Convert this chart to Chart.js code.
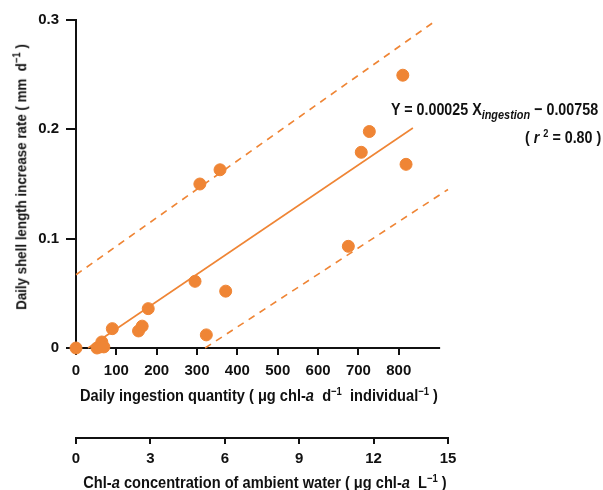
<!DOCTYPE html>
<html>
<head>
<meta charset="utf-8">
<script src="https://cdn.jsdelivr.net/npm/chart.js@4"></script>
<style>
  body { margin: 0; background: #fff; }
  #wrap { position: relative; width: 603px; height: 490px; }
  .lbl { position: absolute; font-family: 'Liberation Sans', Arial, sans-serif;
         font-weight: bold; font-size: 17px; color: #111; white-space: nowrap; line-height: 1; }
  .lbl sup { font-size: 11px; vertical-align: 6px; }
  .lbl sub { font-size: 13px; font-style: italic; vertical-align: -4px; }
</style>
</head>
<body>
<div id="wrap">
  <canvas id="growthChart" width="603" height="490"></canvas>
  <div class="lbl" id="yTitle" style="left:20px; top:177px; font-size:15.5px; transform: translate(-50%,-50%) rotate(-90deg) scaleX(0.86);">Daily shell length increase rate ( mm&nbsp; d<sup>−1</sup> )</div>
  <div class="lbl" id="xTitle" style="left:259px; top:395px; transform: translate(-50%,-50%) scaleX(0.86);">Daily ingestion quantity ( μg chl-<i>a</i>&nbsp; d<sup>−1</sup>&nbsp; individual<sup>−1</sup> )</div>
  <div class="lbl" id="x2Title" style="left:265px; top:482px; transform: translate(-50%,-50%) scaleX(0.86);">Chl-<i>a</i> concentration of ambient water ( μg chl-<i>a</i>&nbsp; L<sup>−1</sup> )</div>
  <div class="lbl" id="eq1" style="left:391px; top:101px; transform-origin: 0 0; transform: scaleX(0.84);">Y = 0.00025 X<sub>ingestion</sub> − 0.00758</div>
  <div class="lbl" id="eq2" style="left:525px; top:128px; transform-origin: 0 0; transform: scaleX(0.84);">( <i>r</i> <sup>2</sup> = 0.80 )</div>
</div>
<script>
// Shell growth vs. daily ingestion, with regression and prediction bands.

const ingestion = [0, 52, 60, 64, 69, 90, 155, 164, 179, 295, 307, 323, 357, 371, 675, 707, 727, 810, 818];
const growthRate = [0, 0, 0.001, 0.0055, 0.001, 0.0177, 0.0156, 0.020, 0.036, 0.061, 0.150, 0.012, 0.163, 0.052, 0.093, 0.179, 0.198, 0.2495, 0.168];

// regression line and dashed band end points
const fitX = [30, 835];
const fitY = [0, 0.2012];
const upperX = [0, 894];
const upperY = [0.067, 0.300];
const lowerX = [320, 922];
const lowerY = [0, 0.145];

const yTicks = [0, 0.1, 0.2, 0.3];
const xTickMax = 900;
const xMax = 922;
const chlTicks = [0, 3, 6, 9, 12, 15];

const orange = '#EF8535';
const tickFont = { family: "'Liberation Sans', Arial, sans-serif", size: 15, weight: 'bold' };

function toPoints(xs, ys) {
  return xs.map((x, i) => ({ x: x, y: ys[i] }));
}

// axis line of the ingestion scale only runs from 0 to 900
const ingestionAxisLine = {
  id: 'ingestionAxisLine',
  beforeDatasetsDraw(chart) {
    const x = chart.scales.x;
    const ctx = chart.ctx;
    const y = chart.chartArea.bottom;
    ctx.save();
    ctx.strokeStyle = '#111';
    ctx.lineWidth = 2;
    ctx.beginPath();
    ctx.moveTo(x.getPixelForValue(0) - 1, y);
    ctx.lineTo(x.getPixelForValue(xTickMax) + 1, y);
    ctx.stroke();
    ctx.restore();
  }
};

new Chart(document.getElementById('growthChart'), {
  type: 'scatter',
  data: {
    datasets: [
      {
        type: 'line',
        data: toPoints(upperX, upperY),
        borderColor: orange,
        borderWidth: 1.6,
        borderDash: [7, 6],
        pointRadius: 0,
        clip: false
      },
      {
        type: 'line',
        data: toPoints(lowerX, lowerY),
        borderColor: orange,
        borderWidth: 1.6,
        borderDash: [7, 6],
        pointRadius: 0,
        clip: false
      },
      {
        type: 'line',
        data: toPoints(fitX, fitY),
        borderColor: orange,
        borderWidth: 1.6,
        pointRadius: 0,
        clip: false
      },
      {
        data: toPoints(ingestion, growthRate),
        backgroundColor: orange,
        borderColor: orange,
        pointRadius: 6,
        clip: false
      }
    ]
  },
  options: {
    responsive: false,
    animation: false,
    layout: { padding: { left: 0, right: 155, top: 20, bottom: 0 } },
    plugins: {
      legend: { display: false },
      tooltip: { enabled: false }
    },
    scales: {
      x: {
        type: 'linear',
        position: 'bottom',
        min: 0,
        max: xMax,
        afterBuildTicks: s => { s.ticks = s.ticks.filter(t => t.value <= xTickMax); },
        afterFit: s => { s.height = 90; },
        ticks: { stepSize: 100, color: '#111', font: tickFont, padding: 7, maxRotation: 0, autoSkip: false },
        grid: { display: true, drawOnChartArea: false, tickLength: 7, color: '#111', lineWidth: 2 },
        border: { display: false }
      },
      x2: {
        type: 'linear',
        position: 'bottom',
        min: 0,
        max: 15,
        afterBuildTicks: s => { s.ticks = chlTicks.map(v => ({ value: v })); },
        afterFit: s => { s.height = 52; },
        ticks: { color: '#111', font: tickFont, padding: 6, maxRotation: 0, autoSkip: false },
        grid: { display: true, drawOnChartArea: false, tickLength: 6, color: '#111', lineWidth: 2 },
        border: { display: true, color: '#111', width: 2 }
      },
      y: {
        min: 0,
        max: 0.3,
        afterBuildTicks: s => { s.ticks = yTicks.map(v => ({ value: v })); },
        afterFit: s => { s.width = 76; },
        ticks: { color: '#111', font: tickFont, padding: 7, callback: v => String(Math.round(v * 10) / 10) },
        grid: { display: true, drawOnChartArea: false, tickLength: 10, color: '#111', lineWidth: 2 },
        border: { display: true, color: '#111', width: 2 }
      }
    }
  },
  plugins: [ingestionAxisLine]
});
</script>
</body>
</html>
